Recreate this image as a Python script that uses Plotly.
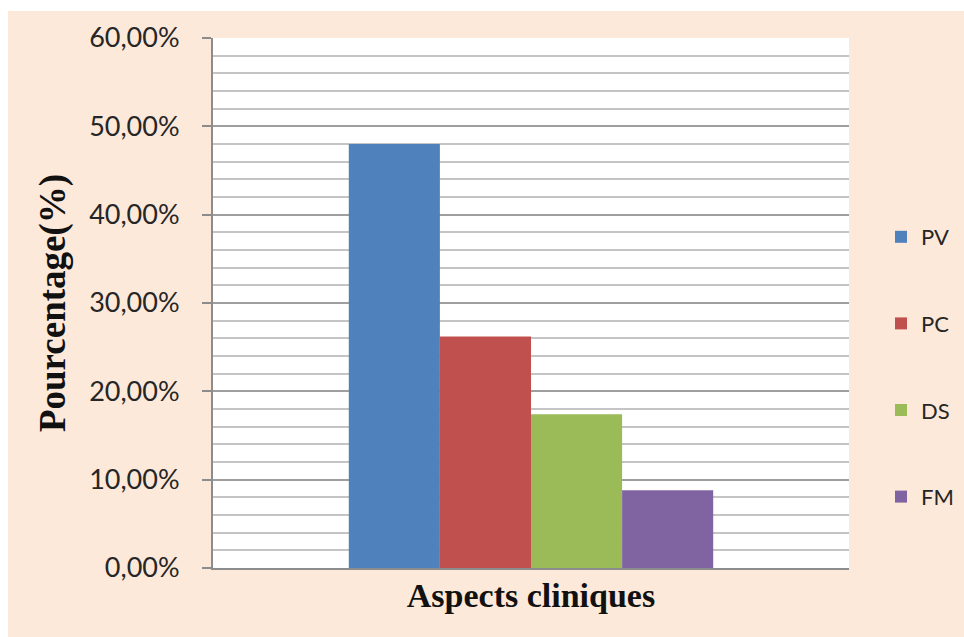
import plotly.graph_objects as go

# Clinical aspects, share of cases (%)
series_names = ["PV", "PC", "DS", "FM"]
series_values = [48.0, 26.2, 17.4, 8.8]
series_colors = ["#4F81BD", "#C0504D", "#9BBB59", "#8064A2"]
category = ["Aspects cliniques"]
y_ticks = [0, 10, 20, 30, 40, 50, 60]
y_tick_labels = ["0,00%", "10,00%", "20,00%", "30,00%", "40,00%", "50,00%", "60,00%"]

W, H = 964, 637
PL, PR, PT, PB = 213, 849, 38, 568  # plot area in pixels

fig = go.Figure()
for name, val, col in zip(series_names, series_values, series_colors):
    fig.add_trace(go.Bar(
        x=category, y=[val], name=name, legendgroup=name,
        marker=dict(color=col, line=dict(width=0)),
    ))

fig.update_layout(
    template="none",
    width=W, height=H, autosize=False,
    margin=dict(l=PL, r=W - PR, t=PT, b=H - PB, pad=0, autoexpand=False),
    paper_bgcolor="#FDE9D9",
    plot_bgcolor="#FFFFFF",
    barmode="group",
    bargap=0.427,
    bargroupgap=0,
    font=dict(family="Lato", color="#262626"),
    legend=dict(
        x=(881 - PL) / (PR - PL), xanchor="left",
        y=(568 - 367) / (PB - PT), yanchor="middle",
        bgcolor="rgba(0,0,0,0)",
        font=dict(family="Lato", size=22, color="#262626"),
        tracegroupgap=55,
        itemclick=False,
    ),
    showlegend=True,
)

fig.update_xaxes(
    showticklabels=False,
    ticks="",
    showgrid=False,
    showline=True, linecolor="#8C8C8C", linewidth=2,
    zeroline=False,
    automargin=False,
    title=dict(text="<b>Aspects cliniques</b>",
               font=dict(family="Liberation Serif", size=34, color="#111111"),
               standoff=14),
)

fig.update_yaxes(
    range=[0, 60],
    tickvals=y_ticks, ticktext=y_tick_labels,
    tickfont=dict(family="Lato", size=27, color="#262626"),
    ticks="outside", ticklen=9, tickwidth=2, tickcolor="#8C8C8C",
    ticklabelstandoff=17,
    showline=True, linecolor="#8C8C8C", linewidth=2,
    showgrid=True, gridcolor="#9E9E9E", gridwidth=2,
    zeroline=False,
    minor=dict(dtick=2, showgrid=True, gridcolor="#C4C4C4", gridwidth=1.5, ticks=""),
    automargin=False,
    title=dict(text="<b>Pourcentage(%)</b>",
               font=dict(family="Liberation Serif", size=37, color="#111111"),
               standoff=12),
)

# white border strips along the top and left edges
fig.add_shape(type="rect", xref="paper", yref="paper", layer="below",
              x0=(0 - PL) / (PR - PL), x1=(W - PL) / (PR - PL) + 0.05,
              y0=(PB - 11) / (PB - PT), y1=(PB + 0) / (PB - PT) + 0.05,
              fillcolor="#FFFFFF", line=dict(width=0))
fig.add_shape(type="rect", xref="paper", yref="paper", layer="below",
              x0=(0 - PL) / (PR - PL) - 0.05, x1=(8 - PL) / (PR - PL),
              y0=(PB - H) / (PB - PT) - 0.05, y1=(PB + 0) / (PB - PT) + 0.05,
              fillcolor="#FFFFFF", line=dict(width=0))

fig.write_html("out.html")
